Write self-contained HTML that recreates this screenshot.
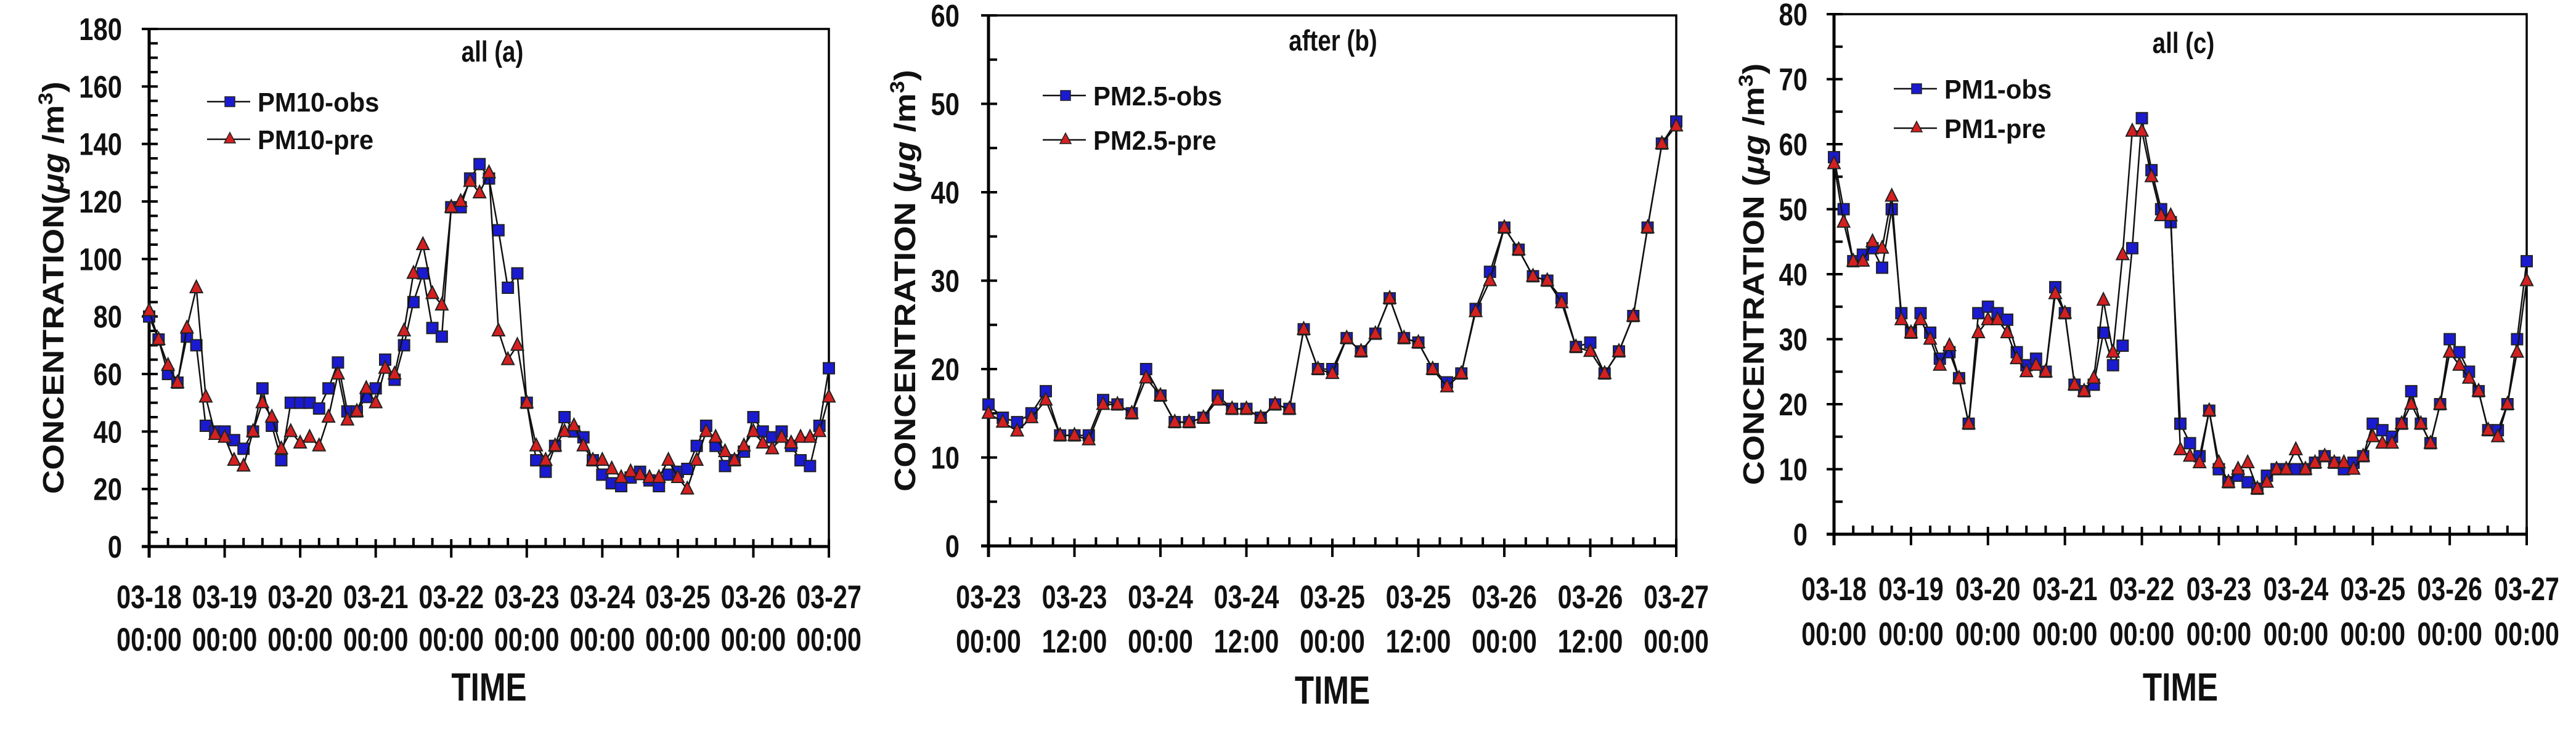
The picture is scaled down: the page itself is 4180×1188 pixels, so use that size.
<!DOCTYPE html>
<html><head><meta charset="utf-8"><style>
html,body{margin:0;padding:0;background:#fff;}
svg{display:block;font-family:"Liberation Sans",Arial,sans-serif;font-weight:bold;}
</style></head><body>
<svg id="fig" width="4180" height="1188" viewBox="0 0 4180 1188" xmlns="http://www.w3.org/2000/svg"></svg>
<script>
// ---- Chart (a) PM10, 3-hourly from 03-18 00:00 ----
const aObs = [80,72,60,57,73,70,42,40, 40,37,34,40,55,42,30,50, 50,50,48,55,64,47,47,52, 55,65,58,70,85,95,76,73, 118,118,128,133,128,110,90,95, 50,30,26,35,45,40,38,30, 25,22,21,24,26,23,21,25, 26,27,35,42,35,28,30,33, 45,40,38,40,35,30,28,42,62];
const aPre = [82,72,63,57,76,90,52,39, 38,30,28,40,50,45,34,40, 36,38,35,45,60,44,47,55, 50,62,60,75,95,105,88,84, 118,120,127,123,130,75,65,70, 50,35,30,35,40,42,35,30, 30,27,24,26,25,24,24,30, 24,20,30,40,38,33,30,35, 40,36,34,38,36,38,38,40,52];
const aXTicks = ["03-18","03-19","03-20","03-21","03-22","03-23","03-24","03-25","03-26","03-27"];
const aXTicks2 = ["00:00","00:00","00:00","00:00","00:00","00:00","00:00","00:00","00:00","00:00"];
const aYTicks = [0,20,40,60,80,100,120,140,160,180];
// ---- Chart (b) PM2.5, 2-hourly from 03-23 00:00 ----
const bObs = [16,14.5,14,15,17.5,12.5,12.5,12.5,16.5,16,15,20, 17,14,14,14.5,17,15.5,15.5,14.5,16,15.5,24.5,20, 20,23.5,22,24,28,23.5,23,20,18.5,19.5,26.8,31, 36,33.5,30.5,30,28,22.5,23,19.5,22,26,36,45.5,48];
const bPre = [15,14,13,14.5,16.5,12.5,12.5,12,16,16,15,19, 17,14,14,14.5,16.5,15.5,15.5,14.5,16,15.5,24.5,20, 19.5,23.5,22,24,28,23.5,23,20,18,19.5,26.5,30, 36,33.5,30.5,30,27.5,22.5,22,19.5,22,26,36,45.5,47.5];
const bXTicks = ["03-23","03-23","03-24","03-24","03-25","03-25","03-26","03-26","03-27"];
const bXTicks2 = ["00:00","12:00","00:00","12:00","00:00","12:00","00:00","12:00","00:00"];
const bYTicks = [0,10,20,30,40,50,60];
// ---- Chart (c) PM1, 3-hourly from 03-18 00:00 ----
const cObs = [58,50,42,43,44,41,50,34, 31,34,31,27,28,24,17,34, 35,34,33,28,26,27,25,38, 34,23,22,23,31,26,29,44, 64,56,50,48,17,14,12,19, 10,8,9,8,7,9,10,10, 10,10,11,12,11,10,11,12, 17,16,15,17,22,17,14,20, 30,28,25,22,16,16,20,30,42];
const cPre = [57,48,42,42,45,44,52,33, 31,33,30,26,29,24,17,31, 33,33,31,27,25,26,25,37, 34,23,22,24,36,28,43,62, 62,55,49,49,13,12,11,19, 11,8,10,11,7,8,10,10, 13,10,11,12,11,11,10,12, 15,14,14,17,20,17,14,20, 28,26,24,22,16,15,20,28,39];
const cXTicks = ["03-18","03-19","03-20","03-21","03-22","03-23","03-24","03-25","03-26","03-27"];
const cXTicks2 = ["00:00","00:00","00:00","00:00","00:00","00:00","00:00","00:00","00:00","00:00"];
const cYTicks = [0,10,20,30,40,50,60,70,80];

const NS = "http://www.w3.org/2000/svg";
const svg = document.getElementById("fig");
function mk(tag, attrs, parent){
  const e = document.createElementNS(NS, tag);
  for (const k in attrs) e.setAttribute(k, attrs[k]);
  (parent||svg).appendChild(e);
  return e;
}
function txt(parent, x, y, s, size, anchor, sx, name){
  const t = mk("text", {transform:`translate(${x},${y}) scale(${sx},1)`, "font-size":size, "text-anchor":anchor, fill:"#111"}, parent);
  t.textContent = s;
  
  
  return t;
}

function chart(cfg){
  const g = mk("g", {});
  
  
  const {L,R,T,B,ymax,nx,xMinor,yMinorStep,yTicks} = cfg;
  const X = i => L + (R-L)*i/(cfg.obs.length-1);
  const Y = v => B - (B-T)*v/ymax;
  const XT = k => L + (R-L)*k/nx;
  const frame = mk("rect", {x:L, y:T, width:R-L, height:B-T, fill:"none", stroke:"#000", "stroke-width":3.5}, g);
  
  
  const xa = mk("line", {x1:L-12, y1:B, x2:R, y2:B, stroke:"#000", "stroke-width":5}, g);
  
  
  const ya = mk("line", {x1:L, y1:T, x2:L, y2:B+18, stroke:"#000", "stroke-width":5}, g);
  
  
  for (let k=0;k<=nx;k++){
    const x = XT(k);
    const t = mk("line", {x1:x, y1:B-12, x2:x, y2:B+18, stroke:"#000", "stroke-width":4}, g);
    
    
    if (k<nx) for (let m=1;m<xMinor;m++){
      const xm = x + (XT(k+1)-x)*m/xMinor;
      const tm = mk("line", {x1:xm, y1:B-14, x2:xm, y2:B, stroke:"#000", "stroke-width":4}, g);
      
      
    }
    txt(g, x, cfg.xl1, cfg.xt1[k], 53, "middle", 0.78, "x-tick-label");
    txt(g, x, cfg.xl2, cfg.xt2[k], 53, "middle", 0.78, "x-tick-label");
  }
  yTicks.forEach(v=>{
    const y = Y(v);
    const t = mk("line", {x1:L-12, y1:y, x2:L+14, y2:y, stroke:"#000", "stroke-width":4}, g);
    
    
    txt(g, cfg.ylabR, y+18, String(v), 51, "end", 0.82, "y-tick-label");
  });
  for (let v=0; v<ymax; v+=yMinorStep){
    if (yTicks.includes(v)) continue;
    const y = Y(v);
    const t = mk("line", {x1:L, y1:y, x2:L+14, y2:y, stroke:"#000", "stroke-width":4}, g);
    
    
  }
  txt(g, cfg.titleX, cfg.titleY, cfg.title, 47, "middle", 0.82, "panel-title");
  txt(g, (L+R)/2, cfg.timeY, "TIME", 64, "middle", 0.8, "x-axis-title");
  const yl = mk("text", {transform:`translate(${cfg.ylX},${(T+B)/2}) scale(0.9,1) rotate(-90)`, "font-size":54, "text-anchor":"middle", fill:"#111"}, g);
  
  
  yl.innerHTML = cfg.ylText + `<tspan font-style="italic">μg</tspan> /m<tspan baseline-shift="super" font-size="36">3</tspan>)`;
  function series(vals, color, shape, sname){
    const sg = mk("g", {}, g);
    
    
    const pts = vals.map((v,i)=>X(i).toFixed(1)+","+Y(v).toFixed(1)).join(" ");
    const pl = mk("polyline", {points:pts, fill:"none", stroke:"#111", "stroke-width":2.5}, sg);
    
    
    vals.forEach((v,i)=>{
      const x = X(i), y = Y(v);
      let m;
      if (shape==="sq") m = mk("rect", {x:x-9, y:y-9, width:18, height:18, fill:color, stroke:"#222", "stroke-width":2}, sg);
      else m = mk("polygon", {points:`${x},${y-12} ${x-10},${y+8} ${x+10},${y+8}`, fill:color, stroke:"#222", "stroke-width":2}, sg);
      
      
    });
  }
  series(cfg.obs, "#1a1ad0", "sq", "obs-series");
  series(cfg.pre, "#d42020", "tri", "pre-series");
  const lg = mk("g", {}, g);
  
  
  [[cfg.obsName,"#1a1ad0","sq",cfg.lgY1],[cfg.preName,"#d42020","tri",cfg.lgY2]].forEach(([nm,col,sh,y])=>{
    const e = mk("g", {}, lg);
    
    
    mk("line", {x1:cfg.lgX-37, y1:y, x2:cfg.lgX+33, y2:y, stroke:"#111", "stroke-width":2.5}, e);
    const x = cfg.lgX;
    if (sh==="sq") mk("rect", {x:x-8, y:y-8, width:16, height:16, fill:col, stroke:"#222", "stroke-width":1.5}, e);
    else mk("polygon", {points:`${x},${y-11} ${x-9},${y+6} ${x+9},${y+6}`, fill:col, stroke:"#222", "stroke-width":1.5}, e);
    txt(e, x+45, y+16, nm, 44, "start", 0.95, "legend-label");
  });
}

chart({name:"chart-a-pm10", L:242, R:1345, T:47, B:887, ymax:180, nx:9, xMinor:4, yMinorStep:5, yTicks:aYTicks,
  obs:aObs, pre:aPre, xt1:aXTicks, xt2:aXTicks2, xl1:987, xl2:1056, timeY:1137, ylabR:198,
  title:"all (a)", titleX:799, titleY:100, ylX:103, ylText:"CONCENTRATION(", obsName:"PM10-obs", preName:"PM10-pre", lgX:373, lgY1:165, lgY2:226});
chart({name:"chart-b-pm25", L:1604, R:2720, T:25, B:886, ymax:60, nx:8, xMinor:4, yMinorStep:5, yTicks:bYTicks,
  obs:bObs, pre:bPre, xt1:bXTicks, xt2:bXTicks2, xl1:987, xl2:1059, timeY:1142, ylabR:1557,
  title:"after (b)", titleX:2163, titleY:82, ylX:1485, ylText:"CONCENTRATION (", obsName:"PM2.5-obs", preName:"PM2.5-pre", lgX:1729, lgY1:155, lgY2:227});
chart({name:"chart-c-pm1", L:2976, R:4100, T:23, B:867, ymax:80, nx:9, xMinor:4, yMinorStep:5, yTicks:cYTicks,
  obs:cObs, pre:cPre, xt1:cXTicks, xt2:cXTicks2, xl1:974, xl2:1047, timeY:1137, ylabR:2933,
  title:"all (c)", titleX:3543, titleY:86, ylX:2862, ylText:"CONCENTRATION (", obsName:"PM1-obs", preName:"PM1-pre", lgX:3110, lgY1:144, lgY2:208});
</script>
</body></html>
